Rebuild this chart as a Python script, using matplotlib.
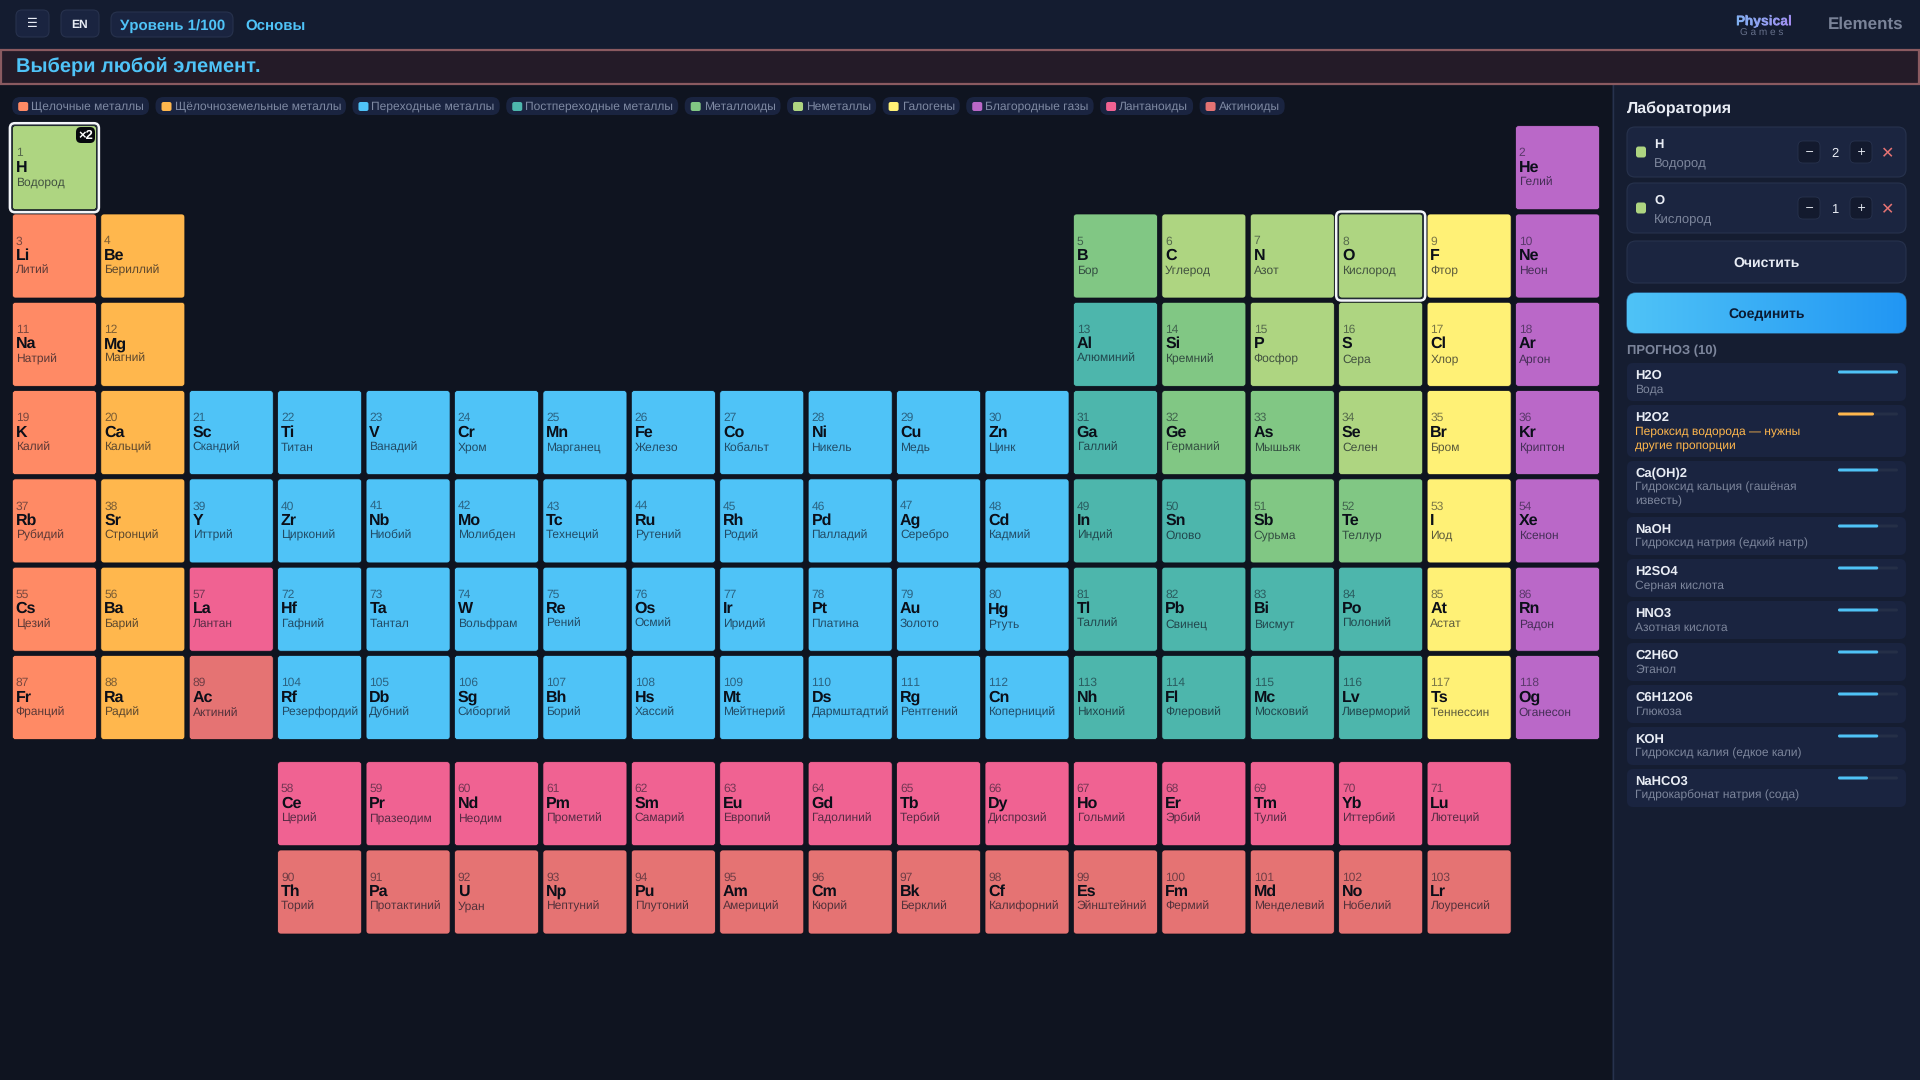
import numpy as np
import matplotlib
matplotlib.use("Agg")
import matplotlib.pyplot as plt
from matplotlib.patches import FancyBboxPatch, Rectangle
from matplotlib.textpath import TextPath
from matplotlib.font_manager import FontProperties
from matplotlib.transforms import Affine2D

plt.rcParams['font.family'] = ['Liberation Sans', 'DejaVu Sans']
plt.rcParams['text.hinting'] = 'no_hinting'
plt.rcParams['text.hinting_factor'] = 1

# ---------- data ----------
numbers = list(range(1, 119))
symbols = ("H He Li Be B C N O F Ne Na Mg Al Si P S Cl Ar K Ca Sc Ti V Cr Mn Fe Co Ni Cu Zn Ga Ge As Se Br Kr "
           "Rb Sr Y Zr Nb Mo Tc Ru Rh Pd Ag Cd In Sn Sb Te I Xe Cs Ba La Ce Pr Nd Pm Sm Eu Gd Tb Dy Ho Er Tm Yb Lu "
           "Hf Ta W Re Os Ir Pt Au Hg Tl Pb Bi Po At Rn Fr Ra Ac Th Pa U Np Pu Am Cm Bk Cf Es Fm Md No Lr "
           "Rf Db Sg Bh Hs Mt Ds Rg Cn Nh Fl Mc Lv Ts Og").split()
names = ("Водород Гелий Литий Бериллий Бор Углерод Азот Кислород Фтор Неон Натрий Магний Алюминий Кремний Фосфор Сера Хлор Аргон "
         "Калий Кальций Скандий Титан Ванадий Хром Марганец Железо Кобальт Никель Медь Цинк Галлий Германий Мышьяк Селен Бром Криптон "
         "Рубидий Стронций Иттрий Цирконий Ниобий Молибден Технеций Рутений Родий Палладий Серебро Кадмий Индий Олово Сурьма Теллур Иод Ксенон "
         "Цезий Барий Лантан Церий Празеодим Неодим Прометий Самарий Европий Гадолиний Тербий Диспрозий Гольмий Эрбий Тулий Иттербий Лютеций "
         "Гафний Тантал Вольфрам Рений Осмий Иридий Платина Золото Ртуть Таллий Свинец Висмут Полоний Астат Радон "
         "Франций Радий Актиний Торий Протактиний Уран Нептуний Плутоний Америций Кюрий Берклий Калифорний Эйнштейний Фермий Менделевий Нобелий Лоуренсий "
         "Резерфордий Дубний Сиборгий Борий Хассий Мейтнерий Дармштадтий Рентгений Коперниций Нихоний Флеровий Московий Ливерморий Теннессин Оганесон").split()

# table column of each element, in atomic-number order
columns = ([1, 18] + [1, 2, 13, 14, 15, 16, 17, 18] * 2 + list(range(1, 19)) * 2
           + [1, 2, 3] + list(range(4, 18)) + list(range(4, 19))
           + [1, 2, 3] + list(range(4, 18)) + list(range(4, 19)))
# table row of each element (8 and 9 are the detached f-block rows)
rows = ([1] * 2 + [2] * 8 + [3] * 8 + [4] * 18 + [5] * 18
        + [6] * 3 + [8] * 14 + [6] * 15
        + [7] * 3 + [9] * 14 + [7] * 15)

category_names = ["Щелочные металлы", "Щёлочноземельные металлы", "Переходные металлы",
                  "Постпереходные металлы", "Металлоиды", "Неметаллы", "Галогены",
                  "Благородные газы", "Лантаноиды", "Актиноиды"]
category_colors = ["#ff8a65", "#ffb74d", "#4fc3f7", "#4db6ac", "#81c784",
                   "#aed581", "#fff176", "#ba68c8", "#f06292", "#e57373"]
alkali = [3, 11, 19, 37, 55, 87]
alkaline = [4, 12, 20, 38, 56, 88]
post = [13, 31, 49, 50, 81, 82, 83, 84, 113, 114, 115, 116]
metalloid = [5, 14, 32, 33, 51, 52]
nonmetal = [1, 6, 7, 8, 15, 16, 34]
halogen = [9, 17, 35, 53, 85, 117]
noble = [2, 10, 18, 36, 54, 86, 118]


def category_of(n):
    if n in alkali: return 0
    if n in alkaline: return 1
    if n in post: return 3
    if n in metalloid: return 4
    if n in nonmetal: return 5
    if n in halogen: return 6
    if n in noble: return 7
    if 57 <= n <= 71: return 8
    if 89 <= n <= 103: return 9
    return 2


selected = {1: 2, 8: 1}

lab_symbols = ["H", "O"]
lab_names = ["Водород", "Кислород"]
lab_counts = [2, 1]

pred_formulas = ["H2O", "H2O2", "Ca(OH)2", "NaOH", "H2SO4", "HNO3", "C2H6O", "C6H12O6", "KOH", "NaHCO3"]
pred_names = ["Вода", "Пероксид водорода — нужны\nдругие пропорции", "Гидроксид кальция (гашёная\nизвесть)",
              "Гидроксид натрия (едкий натр)", "Серная кислота", "Азотная кислота", "Этанол", "Глюкоза",
              "Гидроксид калия (едкое кали)", "Гидрокарбонат натрия (сода)"]
pred_scores = [100, 60, 67, 67, 67, 67, 67, 67, 67, 50]
pred_warn = [False, True, False, False, False, False, False, False, False, False]

# ---------- palette ----------
BG = "#0f1420"
BAR = "#141c30"
PANEL = "#151d31"
CARD = "#1a2440"
EDGE = "#27324d"
BLUE = "#4fc3f7"
TXT = "#e8ecf4"
MUTED = "#7d869c"
INK = "#0d1220"

fig = plt.figure(figsize=(19.2, 10.8), dpi=100, facecolor=BG)
ax = fig.add_axes([0, 0, 1, 1])
ax.set_xlim(0, 1920)
ax.set_ylim(1080, 0)
ax.axis("off")


def px(v):
    return v * 0.72


def rrect(x0, y0, x1, y1, r=4, fc=CARD, ec="none", lw=0, z=2, alpha=None):
    p = FancyBboxPatch((x0 + r, y0 + r), x1 - x0 - 2 * r, y1 - y0 - 2 * r,
                       boxstyle=f"round,pad={r},rounding_size={r}",
                       fc=fc, ec=ec, lw=lw, zorder=z, alpha=alpha)
    ax.add_patch(p)
    return p


def txt(x, y, s, size, color=TXT, bold=False, ha="left", va="baseline", z=5, alpha=None, **kw):
    return ax.text(x, y, s, fontsize=px(size), color=color, ha=ha, va=va, zorder=z, alpha=alpha,
                   fontweight="bold" if bold else "normal", **kw)


# ---------- chrome ----------
ax.add_patch(Rectangle((0, 0), 1920, 49, fc=BAR, ec="none", zorder=1))
ax.add_patch(Rectangle((1612, 84), 308, 996, fc=PANEL, ec="none", zorder=1))
ax.plot([1612.5, 1612.5], [84, 1080], color=EDGE, lw=1, zorder=1.5)
ax.add_patch(Rectangle((1, 50), 1918, 33.5, fc="#241b28", ec="#8a5a60", lw=1.6, zorder=2))
txt(16, 73, "Выбери любой элемент.", 19.9, BLUE, True)

rrect(16, 10, 49, 37, 6, CARD, EDGE, 0.8)
txt(32.5, 23.5, "☰", 12, TXT, ha="center", va="center", family="DejaVu Sans")
rrect(61, 10, 99, 37, 6, CARD, EDGE, 0.8)
txt(80, 28, "EN", 12, TXT, True, ha="center")
rrect(111, 12, 233, 37, 7, CARD, EDGE, 0.8)
txt(120, 30, "Уровень 1/100", 15, BLUE, True)
txt(245.5, 30, "Основы", 15, BLUE, True)

# logo: real text, with a left-to-right gradient laid over its glyph shapes
phys = txt(1763, 25.5, "Physical", 13.8, "#8fa4f2", True, ha="center")
fp = FontProperties(family="Liberation Sans", weight="bold")
tp = TextPath((0, 0), "Physical", size=13.8, prop=fp)
tw = tp.get_extents().width
phys_im = ax.imshow(np.linspace(0, 1, 64).reshape(1, -1),
                    extent=(1763 - tw / 2, 1763 + tw / 2, 27, 13), aspect="auto", zorder=6,
                    cmap=matplotlib.colors.LinearSegmentedColormap.from_list("p", ["#7fb2f0", "#a58cf2"]))
phys_im.set_clip_path(tp, Affine2D().scale(1, -1).translate(1763 - tw / 2, 25.5) + ax.transData)
txt(1762, 36, "G a m e s", 9.8, "#66708a", ha="center")
txt(1903, 29, "Elements", 16.8, "#7a8398", True, ha="right")

# ---------- legend pills ----------
renderer = fig.canvas.get_renderer()
x = 12.2
for name, col in zip(category_names, category_colors):
    t = txt(x + 19, 110, name, 11.85, "#7f8aa3", z=5)
    w = t.get_window_extent(renderer).width
    rrect(x, 97, x + 19 + w + 5, 115, 8, "#1a2440", z=2)
    rrect(x + 6, 102, x + 16, 111, 2, col, z=3)
    x += 19 + w + 5 + 6.5

# ---------- periodic table ----------
X0, Y0, PITCH_X, PITCH_Y, CW, CH = 12.4, 125.7, 88.42, 88.3, 84, 84
for n, sym, name, c, r in zip(numbers, symbols, names, columns, rows):
    cx = X0 + PITCH_X * (c - 1)
    if r <= 7:
        cy = Y0 + PITCH_Y * (r - 1)
    else:
        cy = 761.7 + PITCH_Y * (r - 8)
    rrect(cx, cy, cx + CW, cy + CH, 3, category_colors[category_of(n)], "#0a0e18", 0.5, z=2)
    if n in selected:
        rrect(cx - 2.5, cy - 2.5, cx + CW + 2.5, cy + CH + 2.5, 5, "none", "#f4f6fa", 1.8, z=3.5)
        rrect(cx - 0.7, cy - 0.7, cx + CW + 0.7, cy + CH + 0.7, 4, "none", "#26303a", 0.8, z=3.4)
    txt(cx + 3.3, cy + 30.5, str(n), 12, INK, z=4, alpha=0.55)
    txt(cx + 3.3, cy + 46, sym, 16, "#0b0f19", True, z=4)
    txt(cx + 3.3, cy + 60, name, 12, INK, z=4, alpha=0.68)

# multiplicity badge on hydrogen
rrect(76, 127, 95, 143, 5, "#06080d", z=6)
txt(85.5, 139, "×2", 12.5, "#ffffff", True, ha="center", z=7)

# ---------- laboratory ----------
txt(1627, 113.5, "Лаборатория", 16, TXT, True)
for i, (s, nm, cnt) in enumerate(zip(lab_symbols, lab_names, lab_counts)):
    top = 127 + 56 * i
    rrect(1627, top, 1906, top + 50, 8, "#1b2540", EDGE, 0.8)
    rrect(1636, top + 19.5, 1646, top + 30.5, 2.5, category_colors[5], z=3)
    txt(1654, top + 21, s, 13, TXT, True)
    txt(1654, top + 40, nm, 13, MUTED)
    rrect(1798, top + 14, 1820, top + 36, 5, "#131a2e", EDGE, 0.6, z=3)
    txt(1809, top + 25, "−", 11, TXT, ha="center", va="center", family="DejaVu Sans")
    txt(1835, top + 30, str(cnt), 13, TXT, ha="center")
    rrect(1850, top + 14, 1872, top + 36, 5, "#131a2e", EDGE, 0.6, z=3)
    txt(1861, top + 25, "+", 11, TXT, ha="center", va="center", family="DejaVu Sans")
    txt(1888, top + 26.5, "✕", 16, "#e57373", True, ha="center", va="center", family="DejaVu Sans")

rrect(1627, 241, 1906, 283, 9, "#1b2540", EDGE, 0.8)
txt(1766.5, 267, "Очистить", 14.2, TXT, True, ha="center")

grad = np.linspace(0, 1, 256).reshape(1, -1)
cmap = matplotlib.colors.LinearSegmentedColormap.from_list("b", ["#4fc3f7", "#2196f3"])
btn = rrect(1627, 293, 1906, 333, 9, "#2a80c0", "#2e6f9f", 1)
im = ax.imshow(grad, extent=(1627, 1906, 333, 293), cmap=cmap, aspect="auto", zorder=3)
im.set_clip_path(btn)
ax.set_xlim(0, 1920)
ax.set_ylim(1080, 0)
txt(1766.5, 318, "Соединить", 14.2, "#0a1a33", True, ha="center")

# ---------- forecast ----------
txt(1627, 354, "ПРОГНОЗ (10)", 13, MUTED, True)
y = 363
for f, nm, sc, warn in zip(pred_formulas, pred_names, pred_scores, pred_warn):
    two = "\n" in nm
    h = 52 if two else 38
    rrect(1627, y, 1906, y + h, 6, "#1a2440")
    txt(1635, y + 16, f, 13, TXT, True)
    for j, line in enumerate(nm.split("\n")):
        txt(1635, y + 30 + 14 * j, line, 12, "#ffb74d" if warn else MUTED)
    rrect(1838, y + 7.5, 1898, y + 10.5, 1.5, "#252f47", z=3)
    rrect(1838, y + 7.5, 1838 + 60 * sc / 100, y + 10.5, 1.5, "#ffb74d" if warn else BLUE, z=4)
    y += h + 4

fig.savefig("out.png", dpi=100, facecolor=BG)
